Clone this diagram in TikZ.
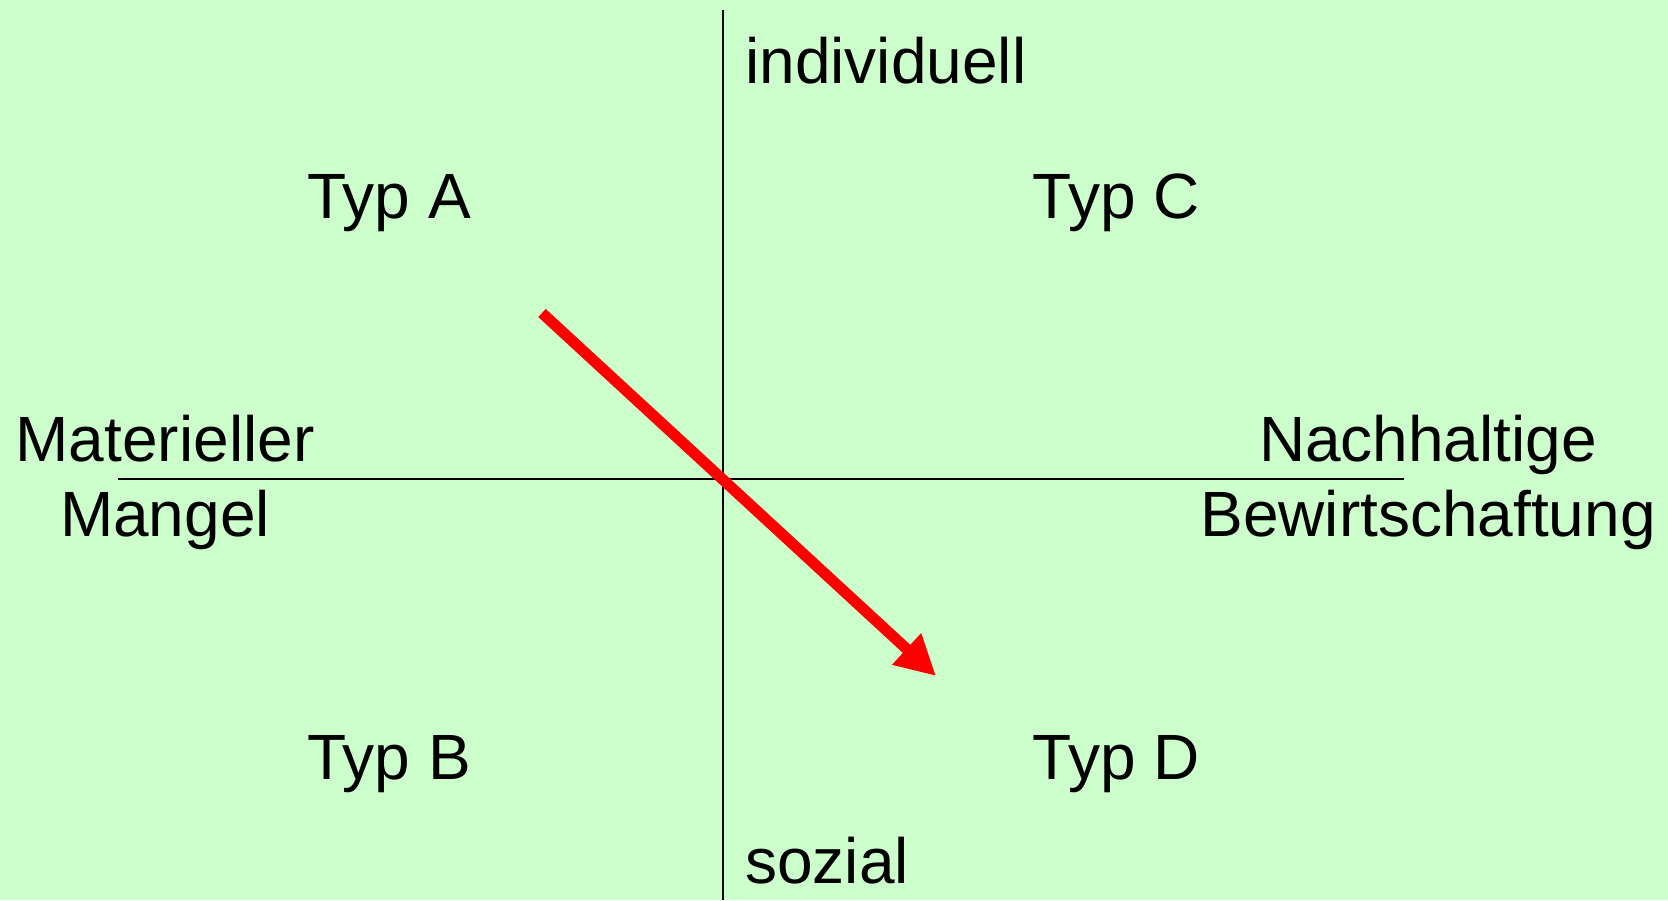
\documentclass[tikz,border=0pt]{standalone}
\usepackage{fontspec}
\setmainfont{Liberation Sans}
\usetikzlibrary{arrows.meta}
\definecolor{hellgruen}{RGB}{204,255,204}
\begin{document}
\begin{tikzpicture}[x=.5pt,y=-.5pt,line cap=butt,line join=miter,
    lbl/.style={font=\fontsize{32}{37.5}\selectfont,inner sep=0pt},
    achse/.style={line width=1pt}]
            \fill[hellgruen] (0,0) rectangle (1668,900);
            \useasboundingbox (0,0) rectangle (1668,900);
            \coordinate (oben) at (723,10);
            \coordinate (unten) at (723,900);
            \coordinate (links) at (118,479);
            \coordinate (rechts) at (1404,479);
            \draw[achse] (oben)--(unten);
            \draw[achse] (links)--(rechts);
            \node[lbl,anchor=base west] (indiv) at (745,83) {individuell};
            \node[lbl,anchor=base west] (sozial) at (745,883) {sozial};
            \node[lbl,anchor=base] (typA) at (389,218) {Typ A};
            \node[lbl,anchor=base] (typC) at (1116,218) {Typ C};
            \node[lbl,anchor=base] (typB) at (389,779) {Typ B};
            \node[lbl,anchor=base] (typD) at (1116,779) {Typ D};
            % base = Grundlinie der letzten Zeile
            \node[lbl,anchor=base,align=center] (mangel) at (165,536) {Materieller\\Mangel};
            \node[lbl,anchor=base,align=center] (nachh) at (1428,536) {Nachhaltige\\Bewirtschaftung};
            \coordinate (start) at (542,313);
            \coordinate (ziel) at (936,676);
            \draw[red,line width=5.5pt,-{Triangle[length=20pt,width=20pt]}] (start)--(ziel);
    \end{tikzpicture}
\end{document}
